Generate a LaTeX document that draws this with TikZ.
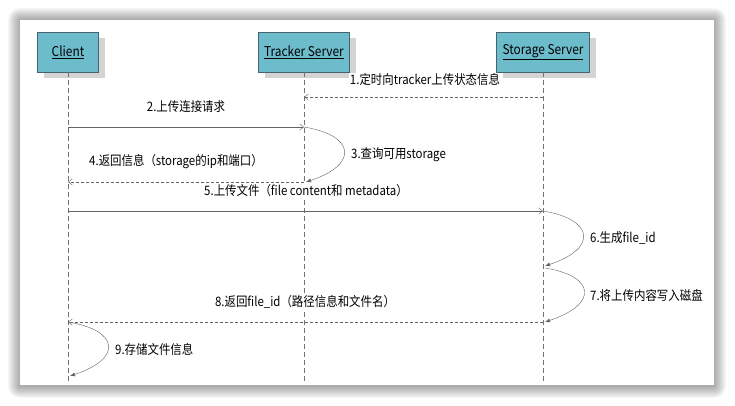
\documentclass[tikz,border=0pt]{standalone}
\usepackage{fontspec}
\setmainfont[FakeStretch=0.88]{Noto Sans CJK SC}
\usepackage{tikz}
\usetikzlibrary{arrows.meta,shadows,positioning}
\definecolor{boxteal}{RGB}{108,188,204}
\definecolor{boxline}{RGB}{70,100,110}
\definecolor{msgline}{RGB}{100,100,100}
\tikzset{
	actor/.style={draw=boxline, fill=boxteal, minimum height=40pt, inner sep=0pt,
		text=black, font=\fontsize{13.5}{15}\selectfont,
		drop shadow={shadow xshift=6pt, shadow yshift=-6pt, fill=black!17, opacity=1}},
	lifeline/.style={draw=black!55, dash pattern=on 5pt off 3pt},
	call/.style={draw=msgline, -{Straight Barb[length=4pt,width=6pt]}},
	reply/.style={call, dash pattern=on 3pt off 2pt},
	selfcall/.style={draw=msgline, -{Latex[length=5pt,width=4pt]}},
	msg/.style={fill=white, inner sep=1pt, text=black, font=\fontsize{13}{14}\selectfont},
}
\begin{document}
\begin{tikzpicture}[x=1pt,y=-1pt]
	\useasboundingbox (0,0) rectangle (735,406);
	% panel with its shadow
	\foreach \i in {1,...,12}
		\fill[black, opacity=0.03, rounded corners=\i pt] ({20-\i},{20-\i}) rectangle ({714+\i},{386+\i});
	\fill[white] (20,20) rectangle (714,385);
	% rows of the messages
	\coordinate (r1) at (0,97);
	\coordinate (r2) at (0,127);
	\coordinate (r3) at (0,182);
	\coordinate (r5) at (0,211);
	\coordinate (r6) at (0,266);
	\coordinate (r7) at (0,268);
	\coordinate (r8) at (0,322);
	\coordinate (r9) at (0,376);
	\coordinate (rend) at (0,381);
	% actors
	\node[actor, minimum width=61pt] (client) at (68,52) {\underline{Client}};
	\node[actor, minimum width=91pt] (tracker) at (304,52) {\underline{Tracker Server}};
	\node[actor, minimum width=93pt] (storage) at (543,52) {\underline{Storage Server}};
	% lifelines
	\draw[lifeline] (client) -- (client |- rend);
	\draw[lifeline] (tracker) -- (tracker |- rend);
	\draw[lifeline] (storage) -- (storage |- rend);
	% messages
	\draw[reply] (storage |- r1) -- (tracker |- r1);
	\node[msg] (m1) at (425,80) {1.定时向tracker上传状态信息};
	\draw[call] (client |- r2) -- (tracker |- r2);
	\node[msg] (m2) at (186,107) {2.上传连接请求};
	\draw[selfcall] (tracker |- r2) .. controls +(50,8) and +(54,-18) .. ([xshift=2pt]tracker |- r3);
	\node[msg, anchor=west] (m3) at (350,155) {3.查询可用storage};
	\draw[reply] (tracker |- r3) -- (client |- r3);
	\node[msg] (m4) at (176,162) {4.返回信息（storage的ip和端口）};
	\node[msg] (m5) at (306,191) {5.上传文件（file content和 metadata）};
	\draw[call] (client |- r5) -- (storage |- r5);
	\draw[selfcall] (storage |- r5) .. controls +(50,8) and +(54,-18) .. ([xshift=2pt]storage |- r6);
	\node[msg, anchor=west] (m6) at (589,238) {6.生成file\_id};
	\draw[selfcall] ([xshift=2pt]storage |- r7) .. controls +(50,8) and +(54,-18) .. ([xshift=2pt]storage |- r8);
	\node[msg, anchor=west] (m7) at (589,296) {7.将上传内容写入磁盘};
	\draw[reply] (storage |- r8) -- (client |- r8);
	\node[msg] (m8) at (305,302) {8.返回file\_id（路径信息和文件名）};
	\draw[selfcall] (client |- r8) .. controls +(50,8) and +(54,-18) .. ([xshift=2pt]client |- r9);
	\node[msg, anchor=west] (m9) at (114,350) {9.存储文件信息};
\end{tikzpicture}
\end{document}
